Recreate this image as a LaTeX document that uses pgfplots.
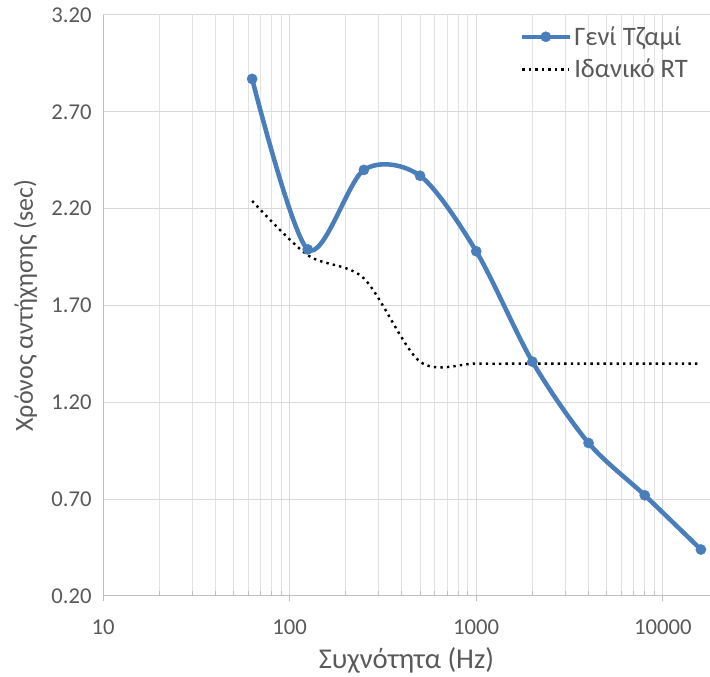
\documentclass[border=0pt]{standalone}
\usepackage{fontspec}
\setmainfont{Carlito}
\usepackage{pgfplots}
\pgfplotsset{compat=1.18}
\definecolor{serblue}{RGB}{74,126,187}
\definecolor{gridgray}{RGB}{217,217,217}
\definecolor{mgridgray}{RGB}{226,226,226}
\definecolor{axgray}{RGB}{191,191,191}
\definecolor{txtgray}{RGB}{89,89,89}
\pgfplotsset{
  longmarkleg/.style={legend image code/.code={
    \draw[##1, mark repeat=2, mark phase=2] plot coordinates {(0cm,0cm) (0.62cm,0cm) (1.24cm,0cm)};}},
  longleg/.style={legend image code/.code={\draw[##1] (0cm,0cm) -- (1.24cm,0cm);}},
}
\begin{document}
\begin{tikzpicture}
\useasboundingbox (-77.25pt,-60.75pt) rectangle (455.25pt,447pt);
\begin{axis}[
  at={(0,0)}, anchor=south west,
  scale only axis, width=455.25pt, height=435.75pt,
  xmode=log, log basis x=10,
  xmin=10, xmax=17900, ymin=0.2, ymax=3.2,
  xtick={10,100,1000,10000},
  xticklabels={10,100,1000,10000},
  minor xtick={20,30,40,50,60,70,80,90,200,300,400,500,600,700,800,900,2000,3000,4000,5000,6000,7000,8000,9000},
  ytick={0.2,0.7,1.2,1.7,2.2,2.7,3.2},
  yticklabels={0.20,0.70,1.20,1.70,2.20,2.70,3.20},
  ymajorgrids, xmajorgrids, xminorgrids,
  major grid style={gridgray, line width=0.75pt},
  minor grid style={mgridgray, line width=0.75pt},
  axis x line*=bottom, axis y line*=left,
  axis line style={axgray, line width=0.75pt},
  ytick style={draw=none},
  major x tick style={axgray, line width=0.75pt, yshift=-4pt},
  minor x tick style={axgray, line width=0.75pt},
  major tick length=4pt, minor tick length=3.5pt,
  tick align=inside,
  /pgf/number format/assume math mode=true,
  tick label style={font=\fontsize{17}{20}\selectfont, text=txtgray},
  yticklabel style={xshift=-5pt},
  xticklabel style={yshift=-14pt},
  xlabel={Συχνότητα (Hz)},
  ylabel={Χρόνος αντήχησης (sec)},
  every axis x label/.style={at={(axis description cs:0.5,0)}, yshift=-48pt, anchor=center,
    font=\fontsize{21.5}{25}\selectfont, text=txtgray},
  every axis y label/.style={at={(axis description cs:0,0.5)}, xshift=-58pt, rotate=90, anchor=center,
    font=\fontsize{19.5}{23}\selectfont, text=txtgray},
  legend style={at={(rel axis cs:0.68,0.99)}, anchor=north west, draw=none, fill=none,
    font=\fontsize{20}{24}\selectfont, text=txtgray, row sep=5pt,
    nodes={inner sep=2pt}},
  legend cell align=left,
  clip=false,
]
\addplot[serblue, line width=3.4pt, smooth, tension=0.5, mark=*, mark size=3.8pt,
  mark options={fill=serblue, draw=serblue, line width=0.4pt}, longmarkleg]
  coordinates {
  (63,2.87) (125,1.99) (250,2.40) (500,2.37) (1000,1.98)
  (2000,1.41) (4000,0.99) (8000,0.72) (16000,0.44)
  };
\addlegendentry{Γενί Τζαμί}
\addplot[black, line width=1.8pt, smooth, tension=0.5, dash pattern=on 1.8pt off 3.1pt, longleg]
  coordinates {
  (63,2.24) (125,1.96) (250,1.84) (500,1.41) (1000,1.40)
  (2000,1.40) (4000,1.40) (8000,1.40) (16000,1.40)
  };
\addlegendentry{Ιδανικό RT}
\end{axis}
\end{tikzpicture}
\end{document}
